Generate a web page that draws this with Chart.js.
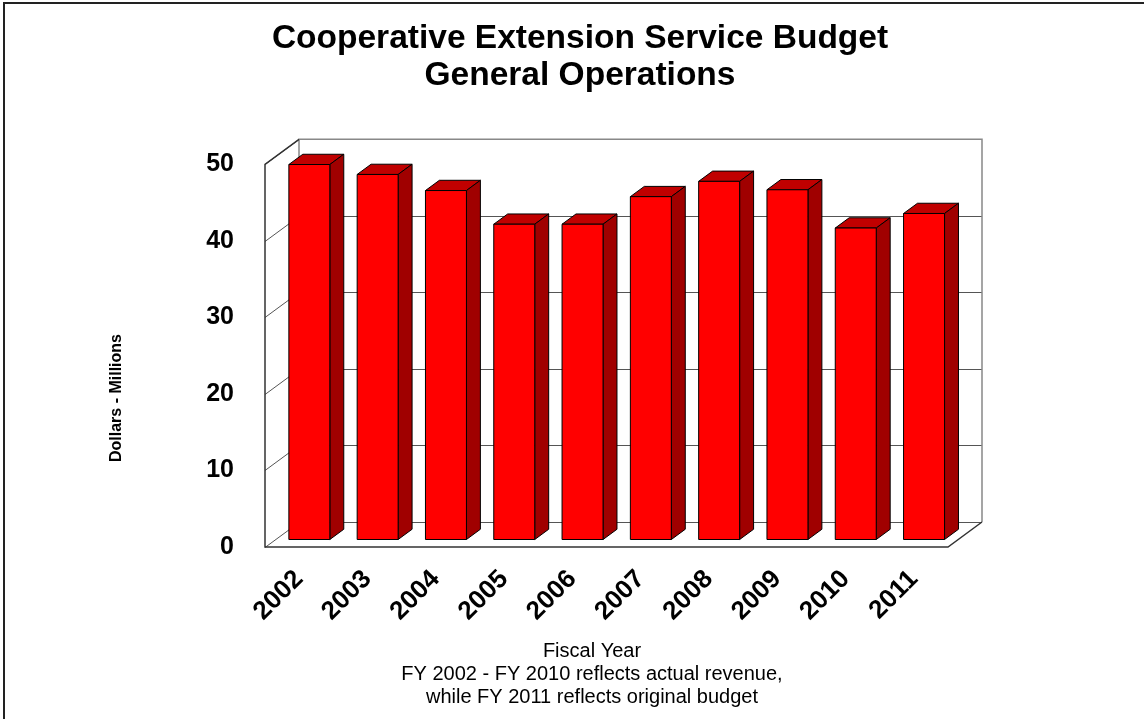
<!DOCTYPE html>
<html>
<head>
<meta charset="utf-8">
<script src="https://cdn.jsdelivr.net/npm/chart.js@4.4.0/dist/chart.umd.min.js"></script>
<style>
  html, body { margin: 0; padding: 0; background: #fff; }
  #wrap { width: 1144px; height: 719px; position: relative; }
</style>
</head>
<body>
<div id="wrap"><canvas id="budgetChart"></canvas></div>
<script>
// 1. Chart data
const years = ['2002', '2003', '2004', '2005', '2006', '2007', '2008', '2009', '2010', '2011'];
const budget = [49.0, 47.7, 45.6, 41.2, 41.2, 44.8, 46.8, 45.7, 40.7, 42.6];
const yMin = 0, yMax = 50, yStep = 10;
const titleLines = ['Cooperative Extension Service Budget', 'General Operations'];
const yTitle = 'Dollars - Millions';
const footerLines = ['Fiscal Year', 'FY 2002 - FY 2010 reflects actual revenue,', 'while FY 2011 reflects original budget'];

const FONT = "'Liberation Sans', Arial, sans-serif";
const WALL = { dx: 34, dy: -25 };       // depth of the 3D box
const BAR_FRONT = 0.3, BAR_DEPTH = 0.41; // bar position inside that depth

function poly(ctx, pts, fill) {
  ctx.beginPath();
  ctx.moveTo(pts[0][0], pts[0][1]);
  for (let i = 1; i < pts.length; i++) ctx.lineTo(pts[i][0], pts[i][1]);
  ctx.closePath();
  ctx.fillStyle = fill;
  ctx.fill();
  ctx.stroke();
}

// 2. Plugin: walls, floor and 3D bars
const box3d = {
  id: 'box3d',
  beforeDatasetsDraw(chart) {
    const { ctx, chartArea: a, scales: { y } } = chart;
    const bx = WALL.dx, by = WALL.dy;
    ctx.save();
    ctx.lineWidth = 1;
    ctx.strokeStyle = '#555';
    y.ticks.forEach(t => {
      const py = Math.round(y.getPixelForValue(t.value)) + 0.5;
      ctx.beginPath();
      ctx.moveTo(a.left, py);
      ctx.lineTo(a.left + bx, py + by);
      ctx.lineTo(a.right + bx, py + by);
      ctx.stroke();
    });
    ctx.strokeStyle = '#888';
    ctx.lineWidth = 1.5;
    ctx.beginPath();
    ctx.moveTo(a.left + bx, a.bottom + by);
    ctx.lineTo(a.left + bx, a.top + by);
    ctx.lineTo(a.right + bx, a.top + by);
    ctx.lineTo(a.right + bx, a.bottom + by);
    ctx.stroke();
    ctx.strokeStyle = '#333';
    ctx.beginPath();
    ctx.moveTo(a.left + bx, a.top + by);
    ctx.lineTo(a.left, a.top);
    ctx.lineTo(a.left, a.bottom);
    ctx.lineTo(a.right, a.bottom);
    ctx.lineTo(a.right + bx, a.bottom + by);
    ctx.stroke();
    ctx.restore();
  },
  afterDatasetsDraw(chart) {
    const { ctx } = chart;
    const fx = WALL.dx * BAR_FRONT, fy = WALL.dy * BAR_FRONT;
    const ddx = WALL.dx * BAR_DEPTH, ddy = WALL.dy * BAR_DEPTH;
    chart.getDatasetMeta(0).data.forEach(bar => {
      const p = bar.getProps(['x', 'y', 'base', 'width'], true);
      const x0 = p.x - p.width / 2 + fx, x1 = p.x + p.width / 2 + fx;
      const yt = p.y + fy, yb = p.base + fy;
      ctx.save();
      ctx.lineWidth = 1;
      ctx.strokeStyle = '#000';
      ctx.lineJoin = 'round';
      poly(ctx, [[x0, yt], [x1, yt], [x1 + ddx, yt + ddy], [x0 + ddx, yt + ddy]], '#c00000');
      poly(ctx, [[x1, yt], [x1 + ddx, yt + ddy], [x1 + ddx, yb + ddy], [x1, yb]], '#a00000');
      poly(ctx, [[x0, yt], [x1, yt], [x1, yb], [x0, yb]], '#ff0000');
      ctx.restore();
    });
  },
  afterDraw(chart) {
    const { ctx } = chart;
    ctx.save();
    // y axis title
    ctx.translate(117, 398);
    ctx.rotate(-Math.PI / 2);
    ctx.font = 'bold 16px ' + FONT;
    ctx.fillStyle = '#000';
    ctx.textAlign = 'center';
    ctx.textBaseline = 'middle';
    ctx.fillText(yTitle, 0, 0);
    ctx.restore();
    // footer
    ctx.save();
    ctx.font = '20px ' + FONT;
    ctx.fillStyle = '#000';
    ctx.textAlign = 'center';
    ctx.textBaseline = 'alphabetic';
    footerLines.forEach((t, i) => ctx.fillText(t, 592, 657 + i * 23));
    // frame
    ctx.strokeStyle = '#222';
    ctx.lineWidth = 2;
    ctx.strokeRect(4, 3, 1160, 740);
    ctx.restore();
  }
};

new Chart(document.getElementById('budgetChart'), {
  type: 'bar',
  data: {
    labels: years,
    datasets: [{
      data: budget,
      backgroundColor: 'rgba(0,0,0,0)',
      borderWidth: 0,
      barPercentage: 0.6,
      categoryPercentage: 1.0
    }]
  },
  options: {
    responsive: true,
    maintainAspectRatio: false,
    animation: false,
    layout: { padding: { left: 16, right: 0, top: 0, bottom: 0 } },
    plugins: {
      legend: { display: false },
      tooltip: { enabled: false },
      title: {
        display: true,
        text: titleLines,
        color: '#000',
        font: { family: FONT, size: 33.5, weight: 'bold', lineHeight: 1.08 },
        padding: { top: 21, bottom: 71 }
      }
    },
    scales: {
      x: {
        type: 'category',
        offset: true,
        grid: { display: false, drawTicks: false },
        border: { display: false },
        ticks: {
          color: '#000',
          font: { family: FONT, size: 26, weight: 'bold' },
          minRotation: 45, maxRotation: 45, autoSkip: false, padding: 17
        },
        afterFit(s) { s.height = 172; }
      },
      y: {
        min: yMin, max: yMax,
        grid: { display: false, drawTicks: false },
        border: { display: false },
        ticks: {
          stepSize: yStep,
          color: '#000',
          font: { family: FONT, size: 25, weight: 'bold' },
          padding: 31
        },
        afterFit(s) { s.width = 249; }
      },
      yRight: {
        axis: 'y',
        position: 'right',
        grid: { display: false, drawTicks: false },
        border: { display: false },
        ticks: { display: false },
        afterFit(s) { s.width = 196; }
      }
    }
  },
  plugins: [box3d]
});
</script>
</body>
</html>
